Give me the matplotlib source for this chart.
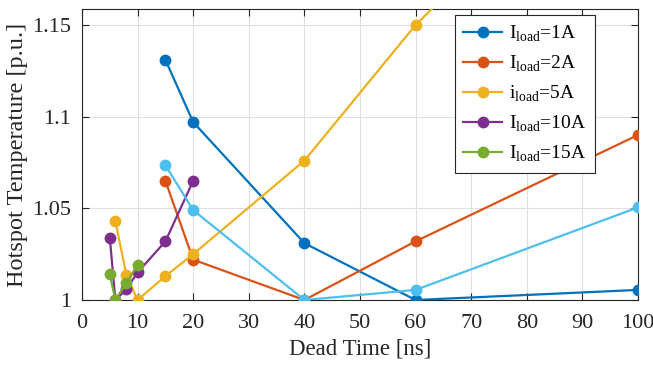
import matplotlib
matplotlib.use("Agg")
import matplotlib.pyplot as plt

plt.rcParams['font.family'] = 'Liberation Serif'
plt.rcParams['mathtext.fontset'] = 'custom'
plt.rcParams['mathtext.rm'] = 'Liberation Serif'

# dead time [ns] vs hotspot temperature [p.u.]
t_1A = [15, 20, 40, 60, 100]
y_1A = [1.131, 1.097, 1.031, 1.000, 1.0055]
t_2A = [15, 20, 40, 60, 100]
y_2A = [1.065, 1.022, 1.000, 1.032, 1.090]
t_5A = [6, 8, 10, 15, 20, 40, 60, 100]
y_5A = [1.043, 1.0135, 1.000, 1.013, 1.025, 1.076, 1.150, 1.27]
t_10A = [5, 6, 8, 10, 15, 20]
y_10A = [1.034, 1.000, 1.006, 1.015, 1.032, 1.065]
t_15A = [5, 6, 8, 10]
y_15A = [1.014, 1.000, 1.0095, 1.019]
t_extra = [15, 20, 40, 60, 100]
y_extra = [1.0735, 1.049, 1.000, 1.0055, 1.0505]

labels = [r'I$_{\mathrm{load}}$=1A', r'I$_{\mathrm{load}}$=2A',
          r'i$_{\mathrm{load}}$=5A', r'I$_{\mathrm{load}}$=10A',
          r'I$_{\mathrm{load}}$=15A']
colors = ['#0072BD', '#D95319', '#EDB120', '#7E2F8E', '#77AC30', '#4DBEEE']

fig = plt.figure(figsize=(6.53, 3.66), dpi=100)
ax = fig.add_axes([82/653, 66/366, 556/653, 291/366])

series = [(t_1A, y_1A), (t_2A, y_2A), (t_5A, y_5A), (t_10A, y_10A),
          (t_15A, y_15A), (t_extra, y_extra)]
lines = []
for i, (t, y) in enumerate(series):
    l, = ax.plot(t, y, '-o', color=colors[i], lw=1.6, ms=7.5, zorder=3)
    lines.append(l)

ax.set_xlim(0, 100)
ax.set_ylim(1.0, 1.1587)
ax.set_xticks(range(0, 101, 10))
ax.set_yticks([1.0, 1.05, 1.1, 1.15])
ax.set_yticklabels(['1', '1.05', '1.1', '1.15'])
ax.tick_params(direction='in', top=True, right=True, labelsize=16,
               length=5, color='#262626', labelcolor='#262626')
ax.tick_params(axis='x', pad=10)
ax.tick_params(axis='y', pad=8)
ax.grid(True, color='#e0e0e0', lw=0.8, zorder=0)
ax.set_axisbelow(True)
for s in ax.spines.values():
    s.set_color('#262626')
    s.set_linewidth(0.8)

ax.set_xlabel('Dead Time [ns]', fontsize=16.5, color='#262626', labelpad=4)
ax.set_ylabel('Hotspot Temperature [p.u.]', fontsize=17.5, color='#262626', labelpad=3)

leg = ax.legend(lines[:5], labels, loc='upper right', fontsize=14,
                bbox_to_anchor=(0.9227, 0.979), borderaxespad=0,
                fancybox=False, edgecolor='#262626', framealpha=1,
                handlelength=2.0, labelspacing=0.5, borderpad=0.45,
                handletextpad=0.35)
leg.get_frame().set_linewidth(0.8)

fig.savefig('out.png', dpi=100)
